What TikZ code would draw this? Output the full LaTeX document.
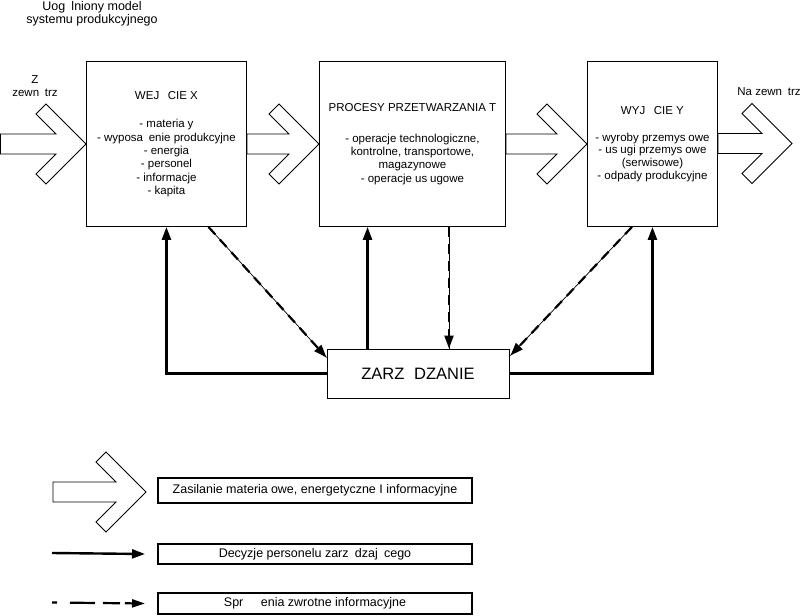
\documentclass[tikz,border=0pt]{standalone}
\usepackage{fontspec}
\setmainfont{Liberation Sans}
\usetikzlibrary{arrows.meta,calc}
\newcommand{\gapw}[1]{\hspace{#1em}}
\newcommand{\blockarr}[2]{%
  \draw[blockarrow] ($(#1 |- #2)+(0,-10)$) -- ($(#2)+(-30,-10)$) -- ($(#2)+(-50,-30)$) -- ($(#2)+(-40,-40)$) -- (#2)
    -- ($(#2)+(-40,40)$) -- ($(#2)+(-50,30)$) -- ($(#2)+(-30,10)$) -- ($(#1 |- #2)+(0,10)$) -- cycle;}
\tikzset{
  box/.style={draw, line width=0.9pt, inner sep=0pt, anchor=north west, align=center,
    font=\fontsize{11.5}{13.3}\selectfont},
  zbox/.style={draw, line width=0.9pt, inner sep=0pt, font=\fontsize{16.5}{18}\selectfont},
  lgbox/.style={draw, line width=2pt, inner sep=0pt, anchor=north west, minimum width=314pt,
    font=\fontsize{12.5}{14}\selectfont},
  blockarrow/.style={draw, line width=0.8pt, line join=miter},
  ctrl/.style={line width=2.4pt, -{Triangle[length=13pt,width=9pt]}},
  fb/.style={line width=2.2pt, dash pattern=on 10pt off 7pt, -{Triangle[length=13pt,width=9pt]},
    preaction={draw, line width=0.7pt, solid, -}},
  legdash/.style={line width=2.2pt, dash pattern=on 5pt off 13pt on 25pt off 8pt on 17pt off 5pt on 60pt,
    -{Triangle[length=13pt,width=8pt]}},
  lbl/.style={inner sep=0pt, align=center, font=\fontsize{11.5}{13}\selectfont},
}
\begin{document}
\begin{tikzpicture}[x=1pt, y=-1pt]
\useasboundingbox (0,0) rectangle (801,616);
\fill[white] (0,0) rectangle (801,616);

\node[lbl, font=\fontsize{12.5}{12.5}\selectfont] (title) at (92,14) {Uog\gapw{.5}lniony model\\systemu produkcyjnego};

\node[box, minimum width=160pt, minimum height=165pt] (wej) at (86,61)
  {WEJ\gapw{.75}CIE X\\[15.5pt]
   - materia\gapw{.25}y\\
   - wyposa\gapw{.5}enie produkcyjne\\
   - energia\\
   - personel\\
   - informacje\\
   - kapita};
\node[box, minimum width=186pt, minimum height=165pt] (proc) at (319,61)
  {PROCESY PRZETWARZANIA T\\[17.5pt]
   - operacje technologiczne,\\
   kontrolne, transportowe,\\
   magazynowe\\
   - operacje us\gapw{.25}ugowe};
\node[box, minimum width=130pt, minimum height=165pt, font=\fontsize{11.5}{12.7}\selectfont] (wyj) at (587,61)
  {WYJ\gapw{.75}CIE Y\\[14pt]
   - wyroby przemys\gapw{.25}owe\\
   - us\gapw{.25}ugi przemys\gapw{.25}owe\\
   (serwisowe)\\
   - odpady produkcyjne};
\node[zbox, minimum width=182pt, minimum height=49pt] (zarz) at (418,373.5) {ZARZ\gapw{.6}DZANIE};

\node[lbl] (lz) at (35,80) {Z};
\node[lbl] (lzt) at (35,93) {zewn\gapw{.5}trz};
\node[lbl] (lnz) at (769,92) {Na zewn\gapw{.5}trz};

% block arrows
\coordinate (src) at (0.5,143.5);
\coordinate (dst) at (792,143.5);
\blockarr{src}{wej.west}
\blockarr{wej.east}{proc.west}
\blockarr{proc.east}{wyj.west}
\blockarr{wyj.east}{dst}

% management connectors
\draw[ctrl] (zarz.west) -| (wej.south);
\draw[fb] ($(wej.south)+(42,0)$) -- ($(zarz.north west)+(0,9)$);
\draw[ctrl] ($(zarz.north west)+(41,0)$) coordinate (zu) -- (zu |- proc.south);
\draw[fb] ($(proc.south west)+(130,0)$) coordinate (pd) -- (pd |- zarz.north);
\draw[fb] ($(wyj.south west)+(45,0)$) -- ($(zarz.north east)+(1,7)$);
\draw[ctrl] (zarz.east) -| (wyj.south);

% legend
\node[lgbox, minimum height=25pt] (lg1) at (157,477) {Zasilanie materia\gapw{.25}owe, energetyczne I informacyjne};
\node[lgbox, minimum height=20pt] (lg2) at (157,543) {Decyzje personelu zarz\gapw{.5}dzaj\gapw{.5}cego};
\node[lgbox, minimum height=21pt] (lg3) at (157,592) {Spr\gapw{1.4}enia zwrotne informacyjne};

\coordinate (la0) at (53,492);
\coordinate (la1) at (146,492);
\blockarr{la0}{la1}
\coordinate (ls0) at (52,553);
\draw[ctrl] (ls0) -- ($(lg2.west)+(-12,0)$);
\coordinate (ld0) at (52,602.5);
\draw[legdash] (ld0) -- ($(lg3.west)+(-12,0)$);
\end{tikzpicture}
\end{document}
